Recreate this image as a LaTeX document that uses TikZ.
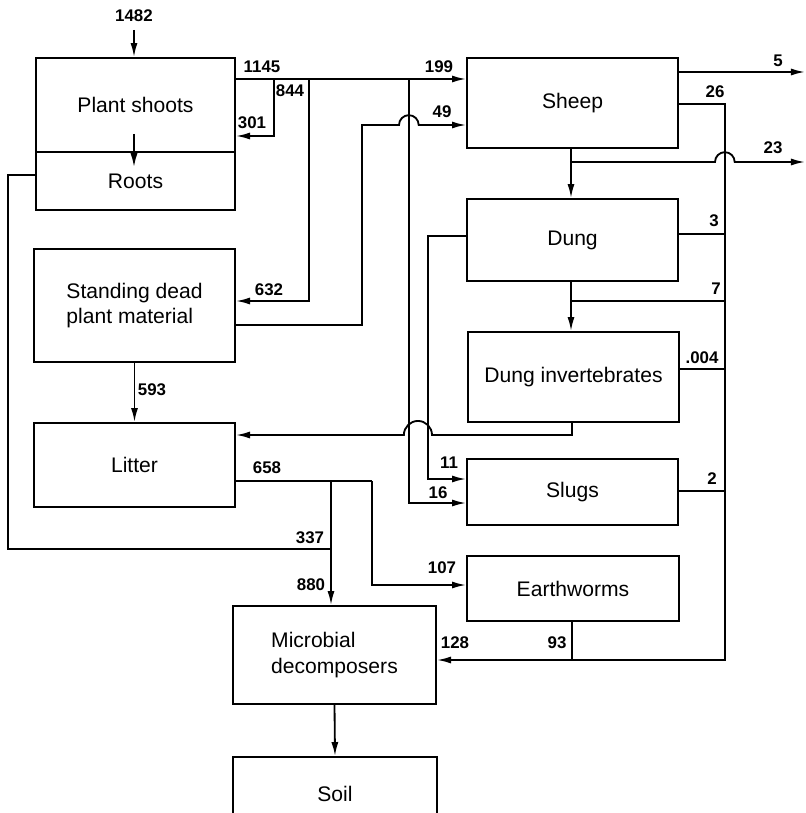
\documentclass[tikz,border=0pt]{standalone}
\usepackage{fontspec}
\setmainfont{Liberation Sans}
\usetikzlibrary{arrows.meta}
\tikzset{
  box/.style={draw, inner sep=0pt, font=\fontsize{15}{18}\selectfont},
  flow/.style={-{Latex[length=10pt,width=5pt]}},
  num/.style={font=\fontsize{12}{14}\selectfont\bfseries, inner sep=0pt},
}
\begin{document}
\begin{tikzpicture}[x=0.025cm, y=-0.025cm, line width=1.3pt]
    \clip (0,0) rectangle (806,813);
    \node[box, minimum width=4.975cm, minimum height=2.35cm] (shoots) at (135.5,105) {Plant shoots};
    \node[box, minimum width=4.975cm, minimum height=1.45cm, text depth=-3pt] (roots) at (135.5,181) {Roots};
    \node[box, minimum width=5.025cm, minimum height=2.825cm, align=left] (dead) at (134.5,305.5) {Standing dead\\plant material};
    \node[box, minimum width=5.025cm, minimum height=2.1cm] (litter) at (134.5,465) {Litter};
    \node[box, minimum width=5.275cm, minimum height=2.25cm] (sheep) at (572.5,103) {Sheep};
    \node[box, minimum width=5.275cm, minimum height=2.05cm] (dung) at (572.5,240) {Dung};
    \node[box, minimum width=5.275cm, minimum height=2.25cm] (dinv) at (573.5,377) {Dung invertebrates};
    \node[box, minimum width=5.275cm, minimum height=1.65cm] (slugs) at (572.5,492) {Slugs};
    \node[box, minimum width=5.3cm, minimum height=1.625cm] (worms) at (573,588.5) {Earthworms};
    \node[box, minimum width=5.075cm, minimum height=2.45cm, align=left] (microbe) at (334.5,655) {Microbial\\decomposers};
    \node[box, minimum width=5.1cm, minimum height=1.825cm] (soil) at (335,793.5) {Soil};

    \coordinate (in) at (134,30);
    \coordinate (j1) at (274,79);
    \coordinate (j2) at (309,79);
    \coordinate (j3) at (409,79);
    \coordinate (c844) at (274,136);
    \coordinate (c632) at (309,301);
    \coordinate (c16) at (409,503);
    \coordinate (c49a) at (362,325);
    \coordinate (c49b) at (362,125);
    \coordinate (h49) at (399,125);
    \coordinate (c337a) at (8,175);
    \coordinate (c337b) at (8,549);
    \coordinate (j337) at (331,549);
    \coordinate (j658) at (331,481);
    \coordinate (c658) at (372,481);
    \coordinate (c107) at (372,585);
    \coordinate (o5) at (805,72);
    \coordinate (j23) at (571,162);
    \coordinate (h23) at (715,162);
    \coordinate (o23) at (805,162);
    \coordinate (c26) at (725,104);
    \coordinate (c93) at (725,660);
    \coordinate (k3) at (725,234);
    \coordinate (j7) at (571,301);
    \coordinate (k7) at (725,301);
    \coordinate (k004) at (725,369);
    \coordinate (k2) at (725,491);
    \coordinate (k93) at (572,660);
    \coordinate (c11a) at (428,236);
    \coordinate (c11b) at (428,479);
    \coordinate (c435) at (572,435);
    \coordinate (h435) at (432,435);

    \draw[flow] (in) -- (in |- shoots.north);
    \draw[flow] ([yshift=13.5pt]shoots.south -| in) -- ([yshift=-11.5pt]roots.north -| in);
    \draw[flow] (shoots.east |- j1) -- (sheep.west |- j1);
    \draw[flow] (j1) -- (c844) -- (shoots.east |- c844);
    \draw[flow] (j2) -- (c632) -- (dead.east |- c632);
    \draw[flow] (j3) -- (c16) -- (slugs.west |- c16);
    \draw[flow] (dead.east |- c49a) -- (c49a) -- (c49b) -- (h49) arc[start angle=180, end angle=0, radius=7pt] -- (sheep.west |- c49b);
    \draw (roots.west |- c337a) -- (c337a) -- (c337b) -- (j337);
    \draw (litter.east |- j658) -- (c658);
    \draw[flow] (j658) -- (j658 |- microbe.north);
    \draw[flow] (c658) -- (c107) -- (worms.west |- c107);
    \draw[flow] (dead.south) -- (litter.north);
    \draw[flow] (microbe.south) -- (soil.north);
    \draw[flow] (sheep.east |- o5) -- (o5);
    \draw[flow] (j23 |- sheep.south) -- (j23 |- dung.north);
    \draw[flow] (j23) -- (h23) arc[start angle=180, end angle=0, radius=7pt] -- (o23);
    \draw[flow] (sheep.east |- c26) -- (c26) -- (c93) -- (microbe.east |- c93);
    \draw (dung.east |- k3) -- (k3);
    \draw[flow] (j7 |- dung.south) -- (j7 |- dinv.north);
    \draw (j7) -- (k7);
    \draw (dinv.east |- k004) -- (k004);
    \draw (slugs.east |- k2) -- (k2);
    \draw (k93 |- worms.south) -- (k93);
    \draw[flow] (dung.west |- c11a) -- (c11a) -- (c11b) -- (slugs.west |- c11b);
    \draw[flow] (c435 |- dinv.south) -- (c435) -- (h435) arc[start angle=0, end angle=180, radius=10pt] -- (litter.east |- c435);

    \node[num] at (134,16) {1482};
    \node[num] at (262,67) {1145};
    \node[num] at (290,91) {844};
    \node[num] at (252,123) {301};
    \node[num] at (439,67) {199};
    \node[num] at (442,112) {49};
    \node[num] at (269,290) {632};
    \node[num] at (152,390) {593};
    \node[num] at (267,468) {658};
    \node[num] at (310,538) {337};
    \node[num] at (311,585) {880};
    \node[num] at (442,568) {107};
    \node[num] at (455,643) {128};
    \node[num] at (557,643) {93};
    \node[num] at (438,493) {16};
    \node[num] at (449,463) {11};
    \node[num] at (712,479) {2};
    \node[num] at (702,358) {.004};
    \node[num] at (716,289) {7};
    \node[num] at (714,221) {3};
    \node[num] at (715,92) {26};
    \node[num] at (773,148) {23};
    \node[num] at (778,61) {5};
\end{tikzpicture}
\end{document}
